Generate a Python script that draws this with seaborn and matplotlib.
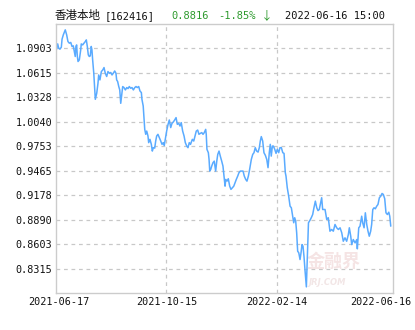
import matplotlib
matplotlib.use("Agg")
import matplotlib.pyplot as plt
import matplotlib.transforms as mtransforms
import seaborn as sns
import pandas as pd

# ---- data ----
trade_day = [0, 1.2, 1.9, 2.8, 3.8, 4.3, 5.2, 6.6, 7.6, 8.5, 9.5, 10.5, 11.4, 12.3, 13.0, 13.7, 14.2, 14.7, 15.2, 15.7,
             16.6, 17.6, 18.0, 19.0, 19.9, 20.9, 21.6, 22.3, 23.0, 23.7, 24.4, 25.1, 25.6, 26.1, 26.9, 27.6, 28.0, 29.0, 29.9, 30.4,
             31.3, 32.3, 33.3, 34.2, 35.1, 36.1, 37.0, 38.0, 39.0, 39.9, 40.8, 41.8, 42.7, 43.2, 43.9, 44.7, 45.4, 46.1, 46.8, 47.5,
             48.4, 49.4, 50.4, 51.3, 52.2, 53.2, 54.1, 55.1, 56.1, 57.0, 57.9, 58.9, 59.8, 60.8, 61.2, 62.1, 62.7, 63.2, 63.9, 64.6,
             65.5, 66.0, 66.9, 67.9, 68.6, 69.3, 70.3, 71.0, 71.7, 72.6, 73.6, 74.6, 75.5, 76.4, 77.1, 77.8, 78.8, 79.8, 80.7, 81.7,
             82.6, 83.5, 84.5, 85.5, 86.4, 87.4, 88.3, 89.2, 90.2, 91.2, 92.1, 93.1, 94.0, 94.9, 95.8, 97.1, 98.1, 99.0, 99.9, 100.9,
             101.8, 102.8, 103.8, 104.7, 105.6, 106.6, 107.0, 107.5, 108.5, 109.0, 109.5, 110.2, 110.9, 111.8, 112.7, 113.7, 114.5, 115.2, 116.1, 117.0,
             118.0, 118.9, 119.9, 120.4, 120.9, 121.8, 122.7, 123.7, 124.6, 125.6, 126.6, 127.5, 128.4, 129.4, 130.3, 131.3, 132.3, 133.2, 134.1, 135.1,
             136.0, 137.0, 137.9, 139.1, 140.1, 141.0, 141.9, 142.9, 143.9, 144.8, 145.5, 146.2, 147.2, 148.1, 149.1, 150.1, 151.0, 151.9, 152.6, 153.3,
             154.1, 154.8, 155.8, 156.7, 157.6, 158.6, 159.5, 160.5, 161.5, 162.4, 163.3, 163.8, 164.7, 165.7, 166.7, 167.6, 168.6, 169.3, 170.0, 170.7,
             171.4, 172.1, 172.9, 173.8, 174.5, 175.2, 175.9, 176.6, 177.3, 178.3, 179.0, 179.8, 180.9, 181.8, 182.8, 183.7, 184.7, 185.7, 186.6, 187.5,
             188.0, 189.2, 189.9, 191.6, 192.8, 193.9, 195.1, 196.3, 197.5, 198.7, 199.9, 201.1, 202.3, 203.5, 204.6, 205.8, 207.0, 208.2, 208.9, 209.9,
             210.6, 211.7, 213.0, 214.2, 214.6, 215.6, 216.5, 217.7, 218.4, 219.4, 220.3, 221.3, 222.2, 223.1, 224.1, 224.8, 225.6, 226.5, 227.4, 228.4,
             229.3, 230.3, 231.3, 232.2, 233.1, 234.1, 235.0, 236.0, 237.0, 237.7, 238.4]
nav = [1.0871, 1.0957, 1.0907, 1.0895, 1.0918, 1.1012, 1.1063, 1.1122, 1.1063, 1.0985, 1.0965, 1.0974, 1.0927, 1.0934, 1.0868, 1.0809, 1.0927, 1.0945, 1.0809, 1.0750,
       1.0769, 1.0887, 1.0957, 1.0945, 1.0965, 1.0985, 1.1004, 1.0927, 1.0828, 1.0809, 1.0816, 1.0927, 1.0887, 1.0769, 1.0612, 1.0416, 1.0306, 1.0377, 1.0495, 1.0592,
       1.0534, 1.0632, 1.0651, 1.0679, 1.0612, 1.0574, 1.0632, 1.0612, 1.0621, 1.0592, 1.0612, 1.0639, 1.0612, 1.0534, 1.0515, 1.0456, 1.0416, 1.0259, 1.0357, 1.0456,
       1.0444, 1.0416, 1.0444, 1.0432, 1.0456, 1.0436, 1.0444, 1.0416, 1.0444, 1.0456, 1.0444, 1.0456, 1.0404, 1.0385, 1.0306, 1.0228, 1.0071, 0.9953, 0.9895, 0.9933,
       0.9875, 0.9797, 0.9836, 0.9777, 0.9698, 0.9738, 0.9733, 0.9816, 0.9875, 0.9895, 0.9856, 0.9816, 0.9777, 0.9797, 0.9765, 0.9836, 0.9933, 1.0012, 1.0063, 0.9974,
       1.0024, 1.0039, 1.0063, 1.0091, 1.0012, 1.0024, 0.9992, 1.0032, 0.9933, 0.9875, 0.9797, 0.9757, 0.9738, 0.9797, 0.9777, 0.9836, 0.9816, 0.9875, 0.9933, 0.9945,
       0.9895, 0.9906, 0.9915, 0.9895, 0.9915, 0.9953, 0.9895, 0.9718, 0.9679, 0.9600, 0.9463, 0.9483, 0.9522, 0.9562, 0.9580, 0.9463, 0.9580, 0.9659, 0.9698, 0.9639,
       0.9580, 0.9522, 0.9365, 0.9286, 0.9365, 0.9345, 0.9373, 0.9286, 0.9248, 0.9268, 0.9286, 0.9326, 0.9365, 0.9404, 0.9444, 0.9463, 0.9463, 0.9463, 0.9404, 0.9365,
       0.9345, 0.9404, 0.9483, 0.9600, 0.9659, 0.9679, 0.9738, 0.9698, 0.9686, 0.9738, 0.9816, 0.9868, 0.9816, 0.9679, 0.9648, 0.9600, 0.9503, 0.9679, 0.9777, 0.9639,
       0.9757, 0.9757, 0.9718, 0.9671, 0.9718, 0.9679, 0.9738, 0.9738, 0.9679, 0.9671, 0.9444, 0.9404, 0.9268, 0.9169, 0.9051, 0.9032, 0.8933, 0.8856, 0.8915, 0.8875,
       0.8738, 0.8522, 0.8503, 0.8424, 0.8503, 0.8600, 0.8580, 0.8463, 0.8306, 0.8103, 0.8463, 0.8856, 0.8886, 0.8915, 0.8953, 0.9032, 0.9110, 0.9032, 0.8999, 0.9012,
       0.9051, 0.9150, 0.9012, 0.9012, 0.8895, 0.8915, 0.8757, 0.8777, 0.8757, 0.8836, 0.8797, 0.8777, 0.8797, 0.8738, 0.8639, 0.8679, 0.8639, 0.8718, 0.8797, 0.8698,
       0.8600, 0.8659, 0.8620, 0.8659, 0.8550, 0.8797, 0.8816, 0.8933, 0.8856, 0.8797, 0.8973, 0.8836, 0.8757, 0.8698, 0.8757, 0.8836, 0.9012, 0.9032, 0.9020, 0.9051,
       0.9071, 0.9150, 0.9169, 0.9200, 0.9189, 0.9138, 0.8973, 0.8953, 0.8980, 0.8933, 0.8816]

y_ticks = [0.8315, 0.8603, 0.8890, 0.9178, 0.9465, 0.9753, 1.0040, 1.0328, 1.0615, 1.0903]
x_tick_days = [0, 78.6, 157.6, 240]
x_tick_labels = ["2021-06-17", "2021-10-15", "2022-02-14", "2022-06-16"]

fund_name = "香港本地"
fund_code = "[162416]"
last_nav = "0.8816"
change = "-1.85%"
arrow = "↓"
stamp = "2022-06-16 15:00"

df = pd.DataFrame({"day": trade_day, "nav": nav})

# ---- figure ----
sns.set_style("white")
W, H = 415, 330
fig = plt.figure(figsize=(W / 100, H / 100), dpi=100)
ax = fig.add_axes([56 / W, 1 - 293.3 / H, (393 - 56) / W, (293.3 - 24) / H])

sns.lineplot(data=df, x="day", y="nav", ax=ax, color="#5aabff", linewidth=1.1, estimator=None, sort=False)

ax.set_xlim(0, 240)
ax.set_ylim(0.80275, 1.11906)
ax.set_xlabel("")
ax.set_ylabel("")

mono = ["DejaVu Sans Mono", "Noto Sans CJK SC"]
ax.set_yticks(y_ticks)
ax.set_yticklabels([f"{v:.4f}" for v in y_ticks], fontsize=7.3, family=mono, color="#111111")
ax.set_xticks(x_tick_days)
ax.set_xticklabels(x_tick_labels, fontsize=7.3, family=mono, color="#111111")
ax.tick_params(axis="both", length=0)
ax.tick_params(axis="y", pad=2.5)
ax.tick_params(axis="x", pad=3)

# shift first / last x label like the reference
labels = ax.get_xticklabels()
labels[0].set_transform(labels[0].get_transform() + mtransforms.ScaledTranslation(2.5 / 100, 0, fig.dpi_scale_trans))
labels[-1].set_transform(labels[-1].get_transform() + mtransforms.ScaledTranslation(-12 / 100, 0, fig.dpi_scale_trans))

# grid
for v in y_ticks:
    ax.axhline(v, color="#c8c8c8", linestyle=(0, (3, 3)), linewidth=0.9, zorder=0)
for d in x_tick_days[1:3]:
    ax.axvline(d, color="#c8c8c8", linestyle=(0, (3, 3)), linewidth=0.9, zorder=0)

for s in ax.spines.values():
    s.set_color("#cccccc")
    s.set_linewidth(1.0)
    s.set_visible(True)

# watermark
ax.text(0.905, 0.085, "金融界", transform=ax.transAxes, fontsize=13, family=["Noto Sans CJK SC"],
        fontweight="bold", color="#f5e4e4", ha="right", va="bottom", zorder=0)
ax.text(0.86, 0.025, "JRJ.COM", transform=ax.transAxes, fontsize=6, family=["DejaVu Sans"],
        fontstyle="italic", fontweight="bold", color="#f2e6e6", ha="right", va="bottom", zorder=0)

# header
ty = 1 - 15.7 / H
fig.text(55 / W, ty, fund_name, fontsize=8.3, family=["Noto Sans CJK SC", "DejaVu Sans"], color="#111111", va="center")
fig.text(105 / W, ty, fund_code, fontsize=7.5, family=mono, color="#111111", va="center")
fig.text(171 / W, ty, last_nav, fontsize=7.5, family=mono, color="#2e9a2e", va="center")
fig.text(218 / W, ty, change, fontsize=7.5, family=mono, color="#2e9a2e", va="center")
fig.text(261 / W, ty, arrow, fontsize=8.5, family=["Noto Sans CJK SC", "DejaVu Sans"], color="#2e9a2e", va="center")
fig.text(285 / W, ty, stamp, fontsize=7.5, family=mono, color="#111111", va="center")

fig.savefig("out.png", dpi=100)
